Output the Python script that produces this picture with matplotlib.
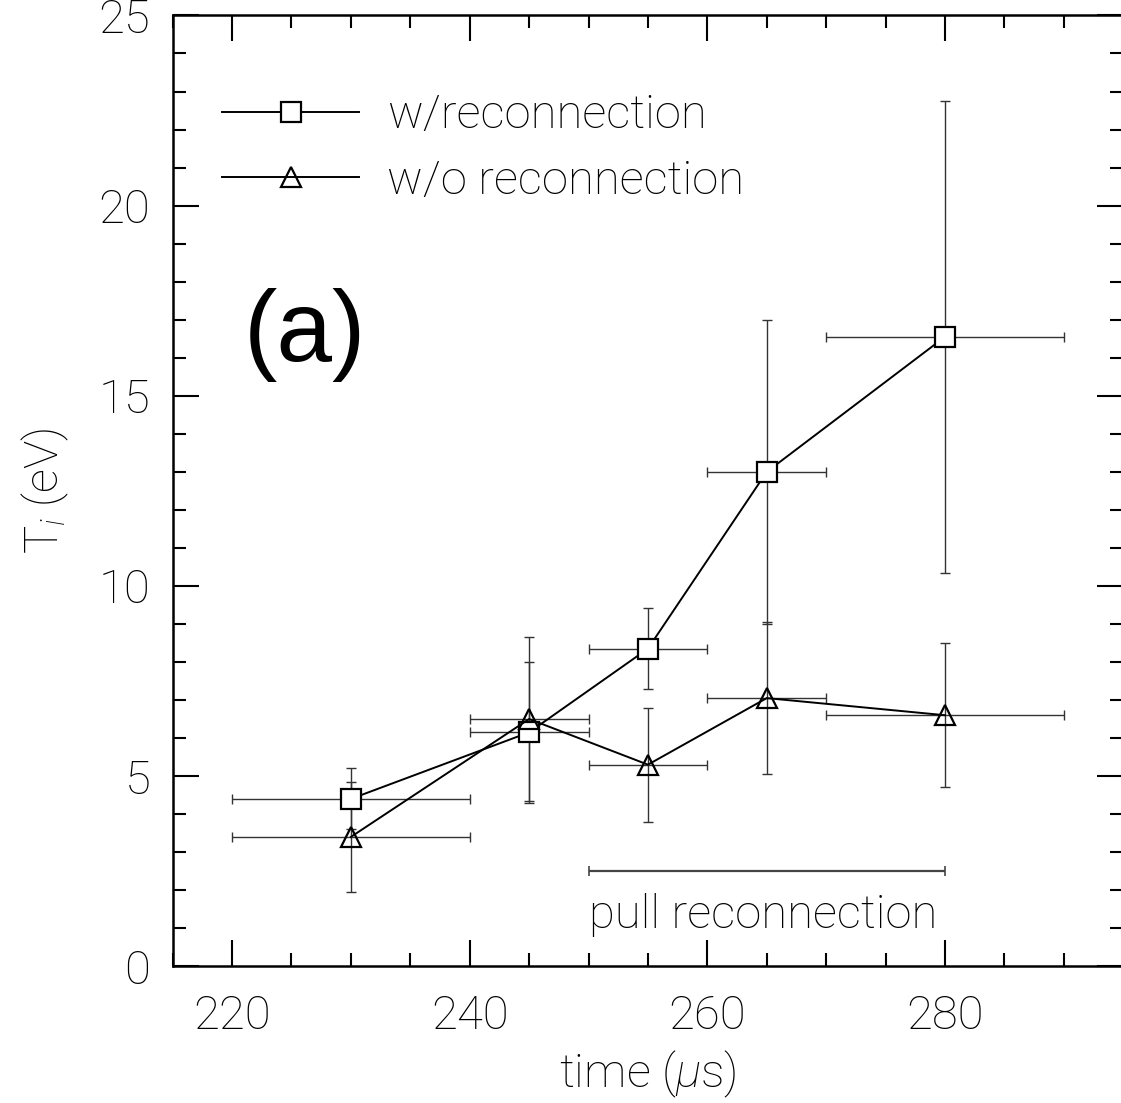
import matplotlib
matplotlib.use("Agg")
import matplotlib.pyplot as plt

# ion temperature vs time, with / without reconnection
time_rec = [230, 245, 255, 265, 280]
ti_rec = [4.4, 6.15, 8.35, 13.0, 16.55]
ti_rec_err = [0.8, 1.85, 1.07, 4.0, 6.2]

time_norec = [230, 245, 255, 265, 280]
ti_norec = [3.4, 6.5, 5.3, 7.05, 6.6]
ti_norec_err = [1.45, 2.15, 1.5, 2.0, 1.9]

time_err = [10, 5, 5, 5, 10]

pull_start, pull_end, pull_level = 250, 280, 2.5

FS = 34
plt.rcParams["font.family"] = "Roboto"
plt.rcParams["font.weight"] = "light"
plt.rcParams["axes.labelweight"] = "light"
plt.rcParams["mathtext.fontset"] = "custom"
plt.rcParams["mathtext.rm"] = "Roboto:light"
plt.rcParams["mathtext.it"] = "Roboto:italic:light"

fig = plt.figure(figsize=(11.21, 11.03), dpi=100)
ax = fig.add_axes([0.154, 0.124, 0.848, 0.862])

ebar_kw = dict(ecolor="#333333", elinewidth=1.0, capsize=3.6, capthick=1.0)

ax.errorbar(time_rec, ti_rec, xerr=time_err, yerr=ti_rec_err, fmt="none", **ebar_kw)
ax.errorbar(time_norec, ti_norec, xerr=time_err, yerr=ti_norec_err, fmt="none", **ebar_kw)

ax.plot(time_rec, ti_rec, color="black", lw=1.4, marker="s", ms=14,
        mfc="white", mec="black", mew=1.6, label="w/reconnection")
ax.plot(time_norec, ti_norec, color="black", lw=1.4, marker="^", ms=15,
        mfc="none", mec="black", mew=1.6, label="w/o reconnection")

# pull reconnection interval
ax.errorbar((pull_start + pull_end) / 2, pull_level, xerr=(pull_end - pull_start) / 2,
            fmt="none", ecolor="#444444", elinewidth=1.6, capsize=3.6, capthick=1.2)
ax.text(pull_start, 1.35, "pull reconnection", fontsize=FS, va="center", ha="left")

ax.text(221.0, 16.6, "(a)", fontsize=72, family="Liberation Sans", weight="normal",
        va="center", ha="left")

ax.set_xlim(215, 295)
ax.set_ylim(0, 25)
ax.set_xticks([220, 240, 260, 280])
ax.set_xticks(range(215, 296, 5), minor=True)
ax.set_yticks([0, 5, 10, 15, 20, 25])
ax.set_yticks(range(0, 26), minor=True)
ax.tick_params(which="both", direction="in", top=True, right=True, labelsize=FS, width=1.5)
ax.tick_params(which="major", length=19)
ax.tick_params(axis="x", which="major", pad=20)
ax.tick_params(axis="y", which="major", pad=16)
ax.tick_params(which="minor", length=9.5)
for sp in ax.spines.values():
    sp.set_linewidth(1.8)

ax.set_xlabel("time ($\\mu$s)", fontsize=FS, labelpad=8)
ax.set_ylabel("T$_i$ (eV)", fontsize=FS, labelpad=20)

ax.legend(loc="upper left", bbox_to_anchor=(0.052, 0.918), frameon=False, fontsize=FS,
          handlelength=2.9, handletextpad=0.6, numpoints=1, labelspacing=0.45,
          borderaxespad=0.0, borderpad=0.0)

fig.savefig("out.png", dpi=100)
